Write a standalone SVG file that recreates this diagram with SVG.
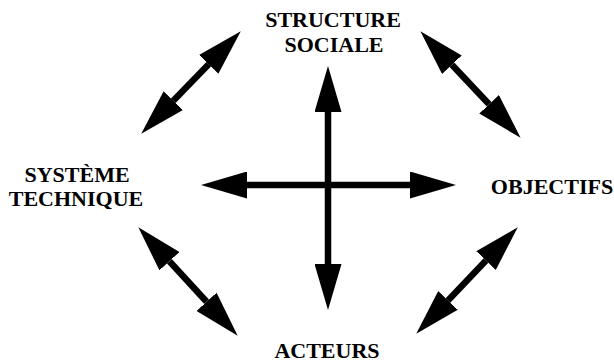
<svg xmlns="http://www.w3.org/2000/svg" width="614" height="363" viewBox="0 0 614 363">
<style>
.lbl{font-family:"Liberation Serif","Times New Roman",serif;font-weight:bold;font-size:22px;fill:#000;text-anchor:middle}
.conn line{stroke:#000;stroke-width:6.5;fill:none;marker-start:url(#head);marker-end:url(#head)}
</style>
<defs>
<marker id="head" markerUnits="userSpaceOnUse" viewBox="0 0 46 27" refX="0" refY="13.5" markerWidth="46" markerHeight="27" orient="auto-start-reverse">
<path d="M0,0 L46,13.5 L0,27 Z" fill="#000"/>
</marker>
</defs>
<rect width="614" height="363" fill="#fff"/>
<g id="structure-sociale"><text class="lbl" x="333" y="27">STRUCTURE</text><text class="lbl" x="334" y="52">SOCIALE</text></g>
<g id="systeme-technique"><text class="lbl" x="77" y="182">SYSTÈME</text><text class="lbl" x="76" y="206">TECHNIQUE</text></g>
<g id="objectifs"><text class="lbl" x="552" y="194">OBJECTIFS</text></g>
<g id="acteurs"><text class="lbl" x="327" y="358">ACTEURS</text></g>
<g id="connectors" class="conn">
<line x1="328" y1="112" x2="328" y2="264"/>
<line x1="247" y1="185" x2="410" y2="185"/>
<line x1="173.3" y1="100.7" x2="208.7" y2="64.3"/>
<line x1="451.9" y1="64.7" x2="489.1" y2="104.3"/>
<line x1="169.4" y1="261.2" x2="206.6" y2="301.8"/>
<line x1="448" y1="300.4" x2="486" y2="260.6"/>
</g>
</svg>
